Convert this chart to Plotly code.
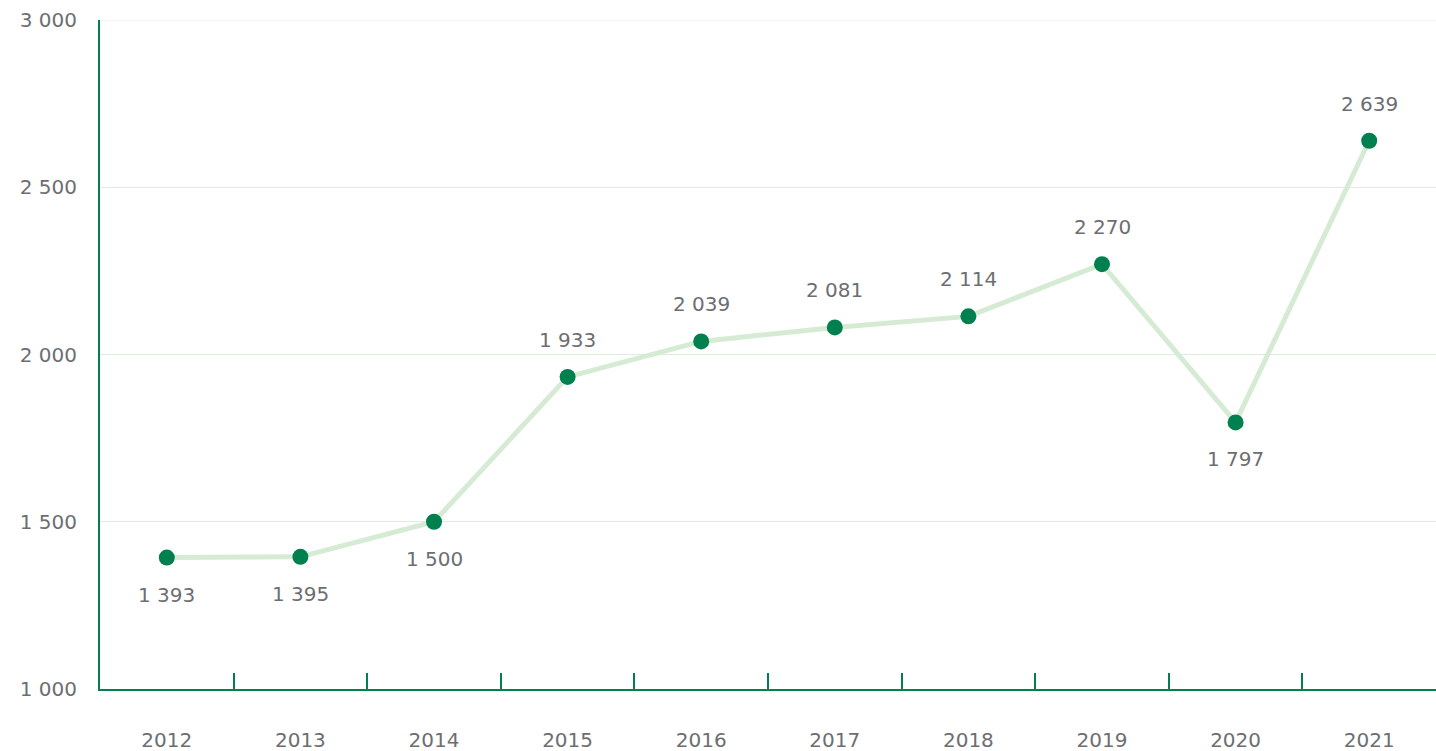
import plotly.graph_objects as go

years = ["2012", "2013", "2014", "2015", "2016", "2017", "2018", "2019", "2020", "2021"]
values = [1393, 1395, 1500, 1933, 2039, 2081, 2114, 2270, 1797, 2639]
label_below = [True, True, True, False, False, False, False, False, True, False]
y_ticks = [1000, 1500, 2000, 2500, 3000]

GREEN = "#00804f"
LIGHT = "#d6ebd4"
GRID = "#ddefdb"
GRAY = "#6d6e71"
FONT = "DejaVu Sans"
FS = 20


def fmt(v):
    return f"{v:,}".replace(",", " ")


fig = go.Figure()
fig.add_trace(go.Scatter(
    x=years, y=values, mode="lines+markers",
    line=dict(color=LIGHT, width=5),
    marker=dict(color=GREEN, size=16),
    hoverinfo="x+y",
))

for i, (v, b) in enumerate(zip(values, label_below)):
    fig.add_annotation(
        x=i, xref="x", y=v, yref="y", text=fmt(v), showarrow=False,
        yshift=-37 if b else 37,
        font=dict(family=FONT, size=FS, color=GRAY),
    )

# top gridline at the range edge
fig.add_shape(type="line", xref="paper", x0=0, x1=1, yref="y",
              y0=y_ticks[-1], y1=y_ticks[-1], line=dict(color=GRID, width=1),
              layer="below")

fig.update_layout(
    width=1436, height=751,
    margin=dict(l=100, r=0, t=20, b=62, autoexpand=False),
    paper_bgcolor="white", plot_bgcolor="white",
    showlegend=False,
    font=dict(family=FONT, size=FS, color=GRAY),
)
fig.update_xaxes(
    type="category", tickson="boundaries", ticks="inside", ticklen=16,
    tickcolor=GREEN, tickwidth=1.5, showgrid=False,
    showline=True, linecolor=GREEN, linewidth=2,
    ticklabelstandoff=32, automargin=False,
    tickfont=dict(family=FONT, size=FS, color=GRAY),
    range=[-0.5, 9.5],
)
fig.update_yaxes(
    range=[1000, 3000], tickvals=y_ticks,
    ticktext=[fmt(t) for t in y_ticks],
    showgrid=True, gridcolor=GRID, gridwidth=1,
    showline=True, linecolor=GREEN, linewidth=2,
    zeroline=False, ticks="", ticklabelstandoff=17, automargin=False,
    tickfont=dict(family=FONT, size=FS, color=GRAY),
)

fig.write_html(
    "out.html",
    config={"displayModeBar": False},
    post_script="document.body.style.margin='0';document.body.style.overflow='hidden';",
)
